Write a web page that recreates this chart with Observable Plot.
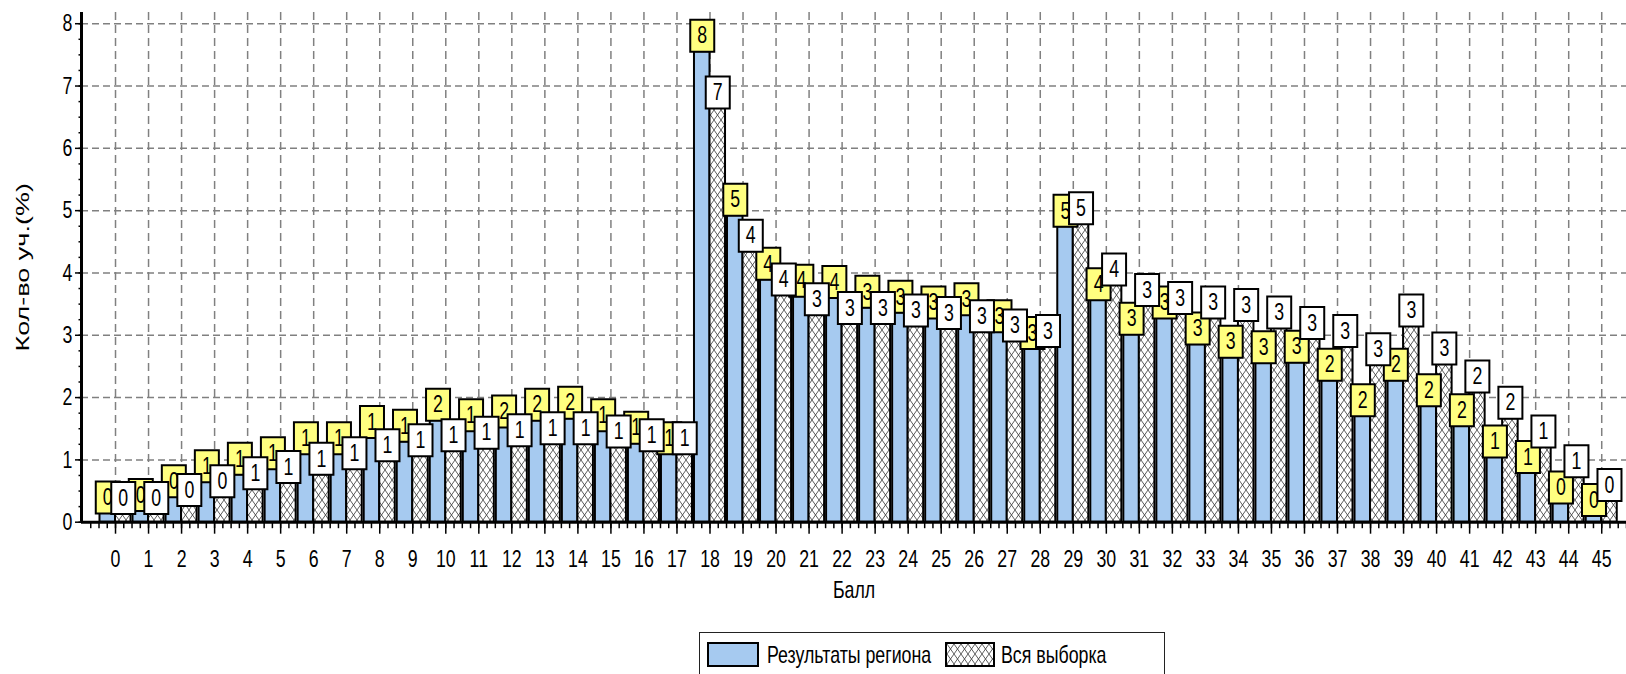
<!DOCTYPE html>
<html><head><meta charset="utf-8">
<script src="https://cdn.jsdelivr.net/npm/d3@7"></script>
<script src="https://cdn.jsdelivr.net/npm/@observablehq/plot@0.6"></script>
<style>
html,body{margin:0;padding:0;background:#fff;overflow:hidden;}
#chart{position:relative;width:1626px;height:674px;font-family:"Liberation Sans",Arial,sans-serif;}
#chart > svg.plot{position:absolute;left:0;top:0;}
#legend{position:absolute;left:699px;top:632px;width:466px;height:60px;border:1.5px solid #222;box-sizing:border-box;background:#fff;}
.sw{position:absolute;top:642px;height:25px;border:2px solid #000;box-sizing:border-box;}
.lt{position:absolute;top:642px;font-size:24px;line-height:26px;transform:scaleX(0.74);transform-origin:left center;white-space:nowrap;color:#000;}
</style></head>
<body>
<svg width="0" height="0" style="position:absolute">
  <defs>
    <pattern id="hatch" patternUnits="userSpaceOnUse" width="7" height="10">
      <rect width="7" height="10" fill="#fff"/>
      <path d="M0,0L7,10M7,0L0,10" stroke="#333" stroke-width="0.8"/>
    </pattern>
  </defs>
</svg>
<div id="chart">
  <div id="legend"></div>
  <div class="sw" style="left:707px;width:52px;background:#a6caf0"></div>
  <div class="lt" style="left:767px">Результаты региона</div>
  <div class="sw" style="left:945px;width:50px;padding:0;overflow:hidden"><svg width="46" height="21" style="display:block"><rect width="46" height="21" fill="url(#hatch)"/></svg></div>
  <div class="lt" style="left:1001px">Вся выборка</div>
</div>
<script>
// ---- data ----
const scores = d3.range(0, 46);
const regionValues = [0.14, 0.18, 0.40, 0.64, 0.76, 0.85, 1.09, 1.09, 1.35, 1.29,
  1.63, 1.46, 1.52, 1.63, 1.66, 1.46, 1.26, 1.09, 7.55, 4.92,
  3.89, 3.62, 3.60, 3.44, 3.36, 3.27, 3.32, 3.05, 2.78, 4.74,
  3.56, 3.01, 3.27, 2.85, 2.64, 2.55, 2.56, 2.27, 1.70, 2.27,
  1.86, 1.54, 1.04, 0.79, 0.30, 0.10];
const allValues = [0.13, 0.13, 0.26, 0.40, 0.53, 0.63, 0.76, 0.85, 0.98, 1.06,
  1.14, 1.18, 1.22, 1.25, 1.25, 1.20, 1.14, 1.09, 6.64, 4.34,
  3.64, 3.32, 3.18, 3.18, 3.14, 3.10, 3.05, 2.90, 2.81, 4.78,
  3.80, 3.47, 3.34, 3.27, 3.23, 3.11, 2.94, 2.81, 2.52, 3.14,
  2.53, 2.08, 1.66, 1.20, 0.72, 0.34];
const yTicks = d3.range(0, 9);
const seriesNames = ["Результаты региона", "Вся выборка"];
const xTitle = "Балл";
const yTitle = "Кол-во уч.(%)";

const data = scores.map((s, i) => ({score: s, region: regionValues[i], all: allValues[i]}));
const xDomain = [-1.03, 45.75];
const yDomain = [0, 8.18];
const minorX = d3.range(-3, 184).map(k => k / 4);
const minorY = d3.range(0, 33).map(k => k / 4);

const boxSym = {draw(ctx) { ctx.rect(-12, -32, 24, 32); }};
const vTick = {draw(ctx) { ctx.moveTo(0, 0); ctx.lineTo(0, 6); }};
const hTick = {draw(ctx) { ctx.moveTo(0, 0); ctx.lineTo(-3, 0); }};
const half = 0.47, off = 7.75;

const svg = Plot.plot({
  width: 1626, height: 625,
  marginLeft: 81, marginRight: 0, marginTop: 12, marginBottom: 103.3,
  x: {domain: xDomain},
  y: {domain: yDomain},
  style: {fontFamily: "Liberation Sans, Arial, sans-serif", fontSize: "24px", color: "#000", background: "transparent", overflow: "visible"},
  marks: [
    Plot.ruleY(yTicks.slice(1), {stroke: "#808080", strokeWidth: 1.5, strokeDasharray: "7,4"}),
    Plot.ruleX(scores, {stroke: "#808080", strokeWidth: 1.5, strokeDasharray: "8,5"}),
    Plot.rect(data, {x1: d => d.score - half, x2: "score", y1: 0, y2: "region", fill: "#a6caf0", stroke: "#000", strokeWidth: 2}),
    Plot.rect(data, {x1: "score", x2: d => d.score + half, y1: 0, y2: "all", fill: "url(#hatch)", stroke: "#000", strokeWidth: 2}),
    Plot.ruleY([0], {stroke: "#000", strokeWidth: 3}),
    Plot.ruleX([xDomain[0]], {stroke: "#000", strokeWidth: 3}),
    Plot.axisY({ticks: yTicks, tickSize: 6, tickPadding: 3, tickFormat: d => String(d), label: null, strokeWidth: 1.5}),
    Plot.dot(minorY, {y: d => d, frameAnchor: "left", symbol: hTick, stroke: "#000", fill: "none", strokeWidth: 1.5}),
    Plot.axisX({ticks: scores, tickSize: 12, tickPadding: 16, tickFormat: d => String(d), label: null, strokeWidth: 1.5}),
    Plot.dot(minorX, {x: d => d, frameAnchor: "bottom", symbol: vTick, stroke: "#000", fill: "none", strokeWidth: 1.5}),
    Plot.text([xTitle], {text: d => d, frameAnchor: "bottom", dy: 76}),
    Plot.text([yTitle], {text: d => d, frameAnchor: "left", textAnchor: "middle", rotate: -90, dx: -59, fontSize: 27}),
    Plot.dot(data, {x: "score", y: "region", dx: -off, symbol: boxSym, fill: "#ffff80", stroke: "#000", strokeWidth: 2}),
    Plot.text(data, {x: "score", y: "region", dx: -off, dy: -16, text: d => String(Math.round(d.region))}),
    Plot.dot(data, {x: "score", y: "all", dx: off, symbol: boxSym, fill: "#fff", stroke: "#000", strokeWidth: 2}),
    Plot.text(data, {x: "score", y: "all", dx: off, dy: -16, text: d => String(Math.round(d.all))})
  ]
});
svg.classList.add("plot");
svg.querySelectorAll("text").forEach(t => {
  const tr = t.getAttribute("transform") || "";
  t.setAttribute("transform", tr + (/rotate/.test(tr) ? " scale(1,0.7)" : " scale(0.74,1)"));
});
document.getElementById("chart").prepend(svg);
</script>
</body></html>
